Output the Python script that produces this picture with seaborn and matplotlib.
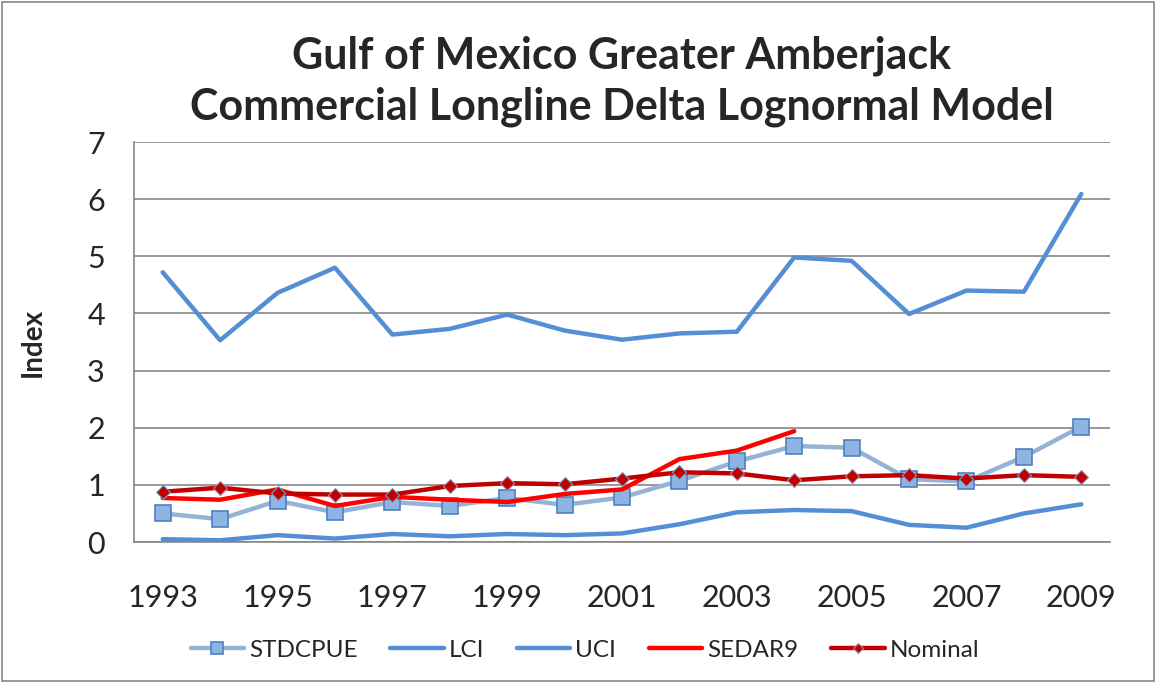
import numpy as np
import pandas as pd
import matplotlib.pyplot as plt
import seaborn as sns
from matplotlib.patches import Rectangle

sns.set_style('white')
plt.rcParams['font.family'] = ['Lato', 'DejaVu Sans']

years = list(range(1993, 2010))
stdcpue = [0.50, 0.40, 0.72, 0.52, 0.70, 0.63, 0.77, 0.65, 0.78, 1.07, 1.41, 1.68, 1.65, 1.10, 1.06, 1.49, 2.02]
lci = [0.05, 0.03, 0.12, 0.06, 0.14, 0.10, 0.14, 0.12, 0.15, 0.31, 0.52, 0.56, 0.54, 0.30, 0.25, 0.50, 0.66]
uci = [4.72, 3.53, 4.36, 4.80, 3.63, 3.73, 3.98, 3.70, 3.54, 3.65, 3.68, 4.98, 4.92, 3.99, 4.40, 4.38, 6.09]
sedar9 = [0.77, 0.74, 0.92, 0.63, 0.79, 0.74, 0.70, 0.84, 0.92, 1.45, 1.60, 1.94] + [np.nan] * 5
nominal = [0.88, 0.95, 0.85, 0.83, 0.83, 0.98, 1.03, 1.01, 1.11, 1.22, 1.20, 1.08, 1.15, 1.17, 1.11, 1.17, 1.14]

df = pd.DataFrame({'year': years, 'STDCPUE': stdcpue, 'LCI': lci, 'UCI': uci,
                   'SEDAR9': sedar9, 'Nominal': nominal})

fig = plt.figure(figsize=(11.56, 6.83), dpi=100)
ax = fig.add_axes([134 / 1156, 1 - 542 / 683, (1110 - 134) / 1156, (542 - 142) / 683])

styles = {
    'STDCPUE': dict(color='#95B3D7', marker='s', markersize=11, markerfacecolor='#8DB4E2',
                    markeredgecolor='#4F81BD', markeredgewidth=1.2),
    'LCI': dict(color='#558ED5'),
    'UCI': dict(color='#558ED5'),
    'SEDAR9': dict(color='#FF0000'),
    'Nominal': dict(color='#C00000', marker='D', markersize=7, markerfacecolor='#C00000',
                    markeredgecolor='#7F9CC0', markeredgewidth=0.8),
}
for name, st in styles.items():
    d = df.dropna(subset=[name])
    sns.lineplot(data=d, x='year', y=name, ax=ax, label=name, linewidth=3.2, **st)

ax.set_xlim(1992.5, 2009.5)
ax.set_ylim(0, 7)
ax.set_yticks(range(0, 8))
ax.set_xticks(range(1993, 2010, 2))
ax.set_xticks(np.arange(1992.5, 2010, 1), minor=True)
ax.tick_params(axis='x', which='major', length=0, pad=30, labelsize=22)
ax.tick_params(axis='x', which='minor', length=11, width=1.2, color='#868686', direction='out')
ax.tick_params(axis='y', length=13, width=1.2, color='#868686', direction='out', labelsize=22, pad=8)
ax.grid(axis='y', color='#868686', linewidth=1.2)
ax.set_axisbelow(True)
for s in ['top', 'right']:
    ax.spines[s].set_visible(False)
for s in ['left', 'bottom']:
    ax.spines[s].set_color('#868686')
    ax.spines[s].set_linewidth(1.2)
ax.set_xlabel('')
ax.set_ylabel('Index', fontsize=20, fontweight='bold', labelpad=30)

ax.set_title('Gulf of Mexico Greater Amberjack\nCommercial Longline Delta Lognormal Model',
             fontsize=31, fontweight='bold', pad=16, linespacing=1.32)

ax.legend(loc='upper center', bbox_to_anchor=(0.462, -0.19), ncol=5, frameon=False,
          fontsize=17.5, handlelength=2.2, handletextpad=0.2, columnspacing=1.35, markerscale=0.75)

fig.patches.append(Rectangle((0.002, 0.003), 0.996, 0.994, transform=fig.transFigure,
                             fill=False, edgecolor='#868686', linewidth=1.2))

fig.savefig('out.png', dpi=100)
